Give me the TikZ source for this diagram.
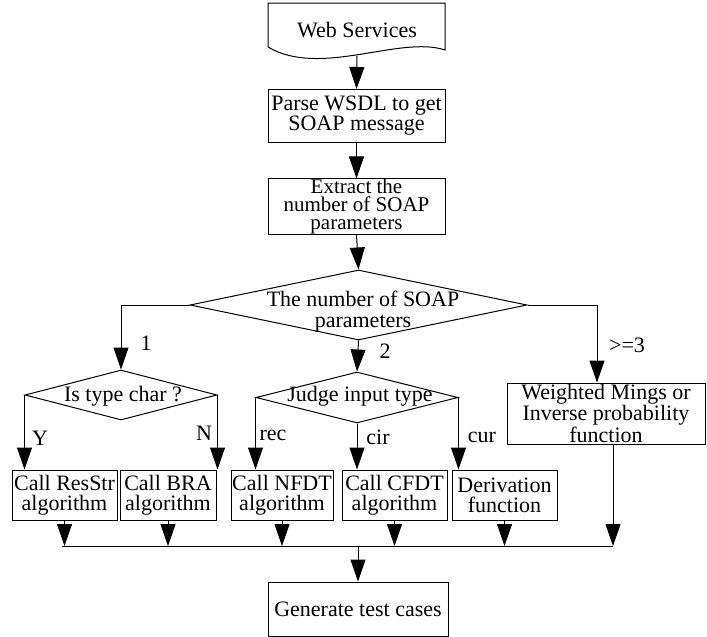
\documentclass[tikz,border=0pt]{standalone}
\usepackage{fontspec}
\setmainfont{Liberation Serif}
\usetikzlibrary{positioning}
\usetikzlibrary{shapes.geometric}
\usetikzlibrary{arrows.meta}
\pgfdeclarelayer{background}
\pgfsetlayers{background,main}

\begin{document}
\begin{tikzpicture}[x=1pt,y=-1pt,
				boxnode/.style={rectangle, draw=black, line width=1pt, fill=white, align=center, inner sep=0pt, font=\fontsize{22}{20}\selectfont},
				decnode/.style={diamond, draw=black, line width=1pt, fill=white, inner sep=0pt},
				txtnode/.style={align=center, inner sep=0pt, font=\fontsize{22}{21}\selectfont},
				arrline/.style={line width=1pt, -{Triangle[length=22pt,width=15pt]}},
				]
				\useasboundingbox (0,0) rectangle (707,637);
				%Nodes
				\draw[line width=1pt] (268,47) -- (268,3) -- (445,3) -- (445,50) .. controls (400,35) and (320,78) .. (268,47) -- cycle;
				\node[txtnode]      (web) 	at 	(357,30)           {Web Services};
				\coordinate         (webbot) at (357,56);
				\node[boxnode, minimum width=177pt, minimum height=53pt]      (parse) 	at 	(356.5,116)          {Parse WSDL to get\\SOAP message};
				\node[boxnode, minimum width=177pt, minimum height=53pt, font=\fontsize{21}{18}\selectfont]      (extract) 	at 	(356.5,206.5)          {Extract the\\number of SOAP\\parameters};
				\node[decnode, minimum width=337pt, minimum height=70pt]      (num) 	at 	(358.5,305)           {};
				\node[txtnode]      (numtxt) 	at 	(363,312)           {The number of SOAP\\parameters};
				\node[decnode, minimum width=192pt, minimum height=50pt]      (char) 	at 	(121,395)           {};
				\node[txtnode]      (chartxt) 	at 	(123,396)           {Is type char ?};
				\node[decnode, minimum width=202pt, minimum height=51pt]      (judge) 	at 	(357,397.5)           {};
				\node[txtnode]      (judgetxt) 	at 	(360,396)           {Judge input type};
				\node[boxnode, minimum width=198pt, minimum height=61pt, font=\fontsize{22}{18}\selectfont]      (weighted) 	at 	(606,413.5)          {Weighted Mings or\\Inverse probability\\function};
				\node[boxnode, minimum width=105pt, minimum height=50pt]      (resstr) 	at 	(64.5,495)          {Call ResStr\\algorithm};
				\node[boxnode, minimum width=96pt, minimum height=50pt]      (bra) 	at 	(168,495)          {Call BRA\\algorithm};
				\node[boxnode, minimum width=102pt, minimum height=50pt]      (nfdt) 	at 	(282,495)          {Call NFDT\\algorithm};
				\node[boxnode, minimum width=105pt, minimum height=50pt]      (cfdt) 	at 	(394.5,495)          {Call CFDT\\algorithm};
				\node[boxnode, minimum width=105pt, minimum height=50pt]      (deriv) 	at 	(504.5,495)          {Derivation\\function};
				\node[boxnode, minimum width=180pt, minimum height=54pt]      (gen) 	at 	(358,609)          {Generate test cases};
				\coordinate         (busL) at (62,546);
				\coordinate         (busR) at (613,546);
				
				%Labels
				\node[txtnode]      (lab1) 	at 	(146,343)           {1};
				\node[txtnode]      (lab2) 	at 	(385,351)           {2};
				\node[txtnode]      (lab3) 	at 	(627,345)           {>=3};
				\node[txtnode]      (labY) 	at 	(40,438)           {Y};
				\node[txtnode]      (labN) 	at 	(204,433)           {N};
				\node[txtnode]      (labrec) 	at 	(273,435)           {rec};
				\node[txtnode]      (labcir) 	at 	(378,437)           {cir};
				\node[txtnode]      (labcur) 	at 	(482,437)           {cur};
				
				\begin{pgfonlayer}{background}
				%Lines
				\draw[arrline] (webbot) -- (parse.north);
				\draw[arrline] (parse.south) -- (extract.north);
				\draw[arrline] (extract.south) -- (num.north);
				
				\draw[arrline] (num.west) -| (char.north);
				\draw[arrline] (num.south) -- (judge.north);
				\draw[arrline] (num.east) -| ([xshift=-9pt]weighted.north);
				
				\draw[arrline] (char.west) -- (char.west |- resstr.north);
				\draw[arrline] (char.east) -- (char.east |- bra.north);
				\draw[arrline] (judge.west) -- (judge.west |- nfdt.north);
				\draw[arrline] (judge.south) -- (judge.south |- cfdt.north);
				\draw[arrline] (judge.east) -- (judge.east |- deriv.north);
				
				\draw[arrline] (resstr.south) -- (resstr.south |- busL);
				\draw[arrline] (bra.south) -- (bra.south |- busL);
				\draw[arrline] (nfdt.south) -- (nfdt.south |- busL);
				\draw[arrline] (cfdt.south) -- (cfdt.south |- busL);
				\draw[arrline] (deriv.south) -- (deriv.south |- busL);
				\draw[arrline] ([xshift=7pt]weighted.south) -- (busR);
				\draw[line width=1pt] (busL) -- (busR);
				\draw[arrline] (gen.north |- busL) -- (gen.north);
				\end{pgfonlayer}
			\end{tikzpicture}
\end{document}
